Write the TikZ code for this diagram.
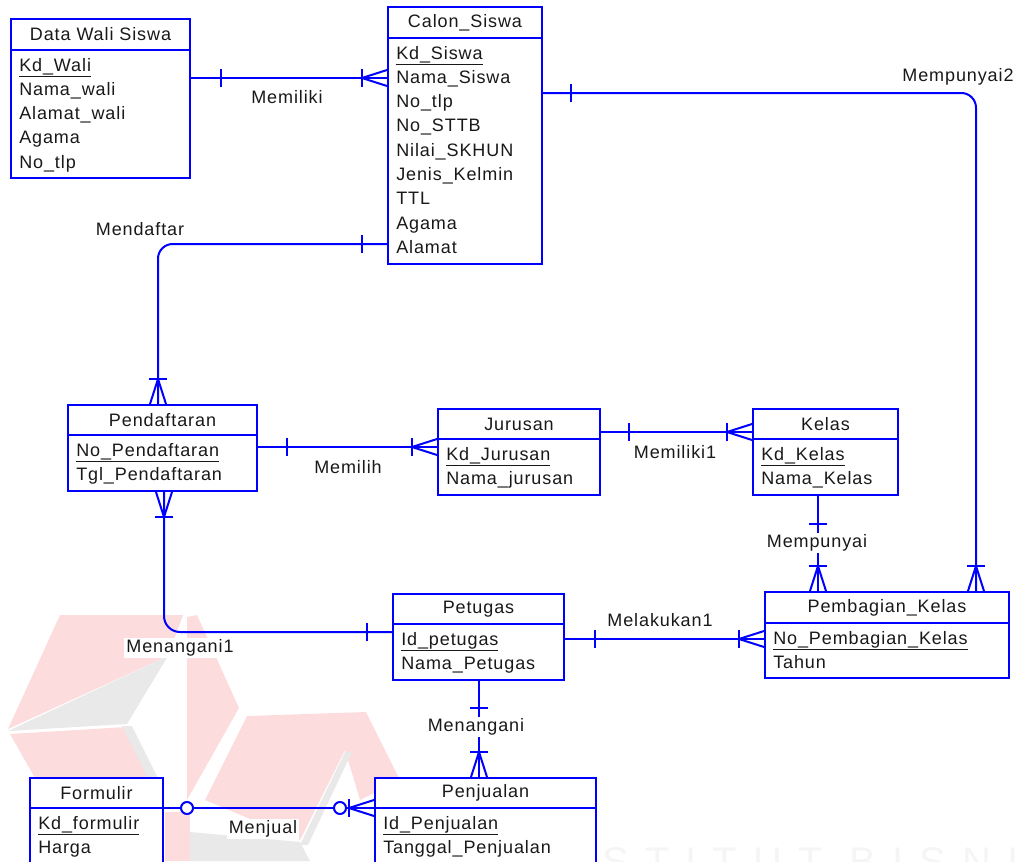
\documentclass[tikz,border=0pt]{standalone}
\usepackage{fontspec}
\setmainfont{Liberation Sans}[LetterSpace=5]
\usetikzlibrary{calc,fit}

\definecolor{erblue}{RGB}{0,0,255}
\definecolor{ertext}{RGB}{25,25,25}
\definecolor{wmpink}{RGB}{253,220,222}
\definecolor{wmgray}{RGB}{233,233,233}

\newcommand{\fs}{\fontsize{13.5}{16}\selectfont}

\tikzstyle{rel}=[draw=erblue, line width=1.5pt]
\tikzstyle{entbox}=[draw=erblue, line width=1.5pt, fill=white, inner sep=0pt]
\tikzstyle{enttitle}=[text=ertext, font=\fs, inner sep=0pt]
\tikzstyle{attr}=[anchor=base west, text=ertext, font=\fs, inner sep=0pt]
\tikzstyle{rlabel}=[text=ertext, font=\fs, fill=white, inner sep=1.5pt]

% entity: name, left, top, right, header line, bottom, title, attributes
\newcommand{\entity}[8]{%
  \node[entbox, fit={(#2,#3) (#4,#6)}] (#1) {};
  \draw[rel] (#2,#5) -- (#4,#5);
  \node[enttitle] (#1-t) at ({(#2+#4)/2},{(#3+#5)/2}) {#7};
  \foreach \r [count=\i from 0] in {#8}
    \node[attr] (#1-\i) at (#2+8, #5+21+24.3*\i) {\r};
}
% marks: point on the box edge, direction into the box
\newcommand{\crow}[3]{%
  \draw[rel] ($(#1)+({-25*(#2)-9*(#3)},{-25*(#3)+9*(#2)})$) -- ++({18*(#3)},{-18*(#2)});
  \draw[rel] ($(#1)+({-8*(#3)},{8*(#2)})$) -- ($(#1)+({-25*(#2)},{-25*(#3)})$) -- ($(#1)+({8*(#3)},{-8*(#2)})$);
}
\newcommand{\onebar}[4]{%
  \draw[rel] ($(#1)+({-(#4)*(#2)-9*(#3)},{-(#4)*(#3)+9*(#2)})$) -- ++({18*(#3)},{-18*(#2)});
}
\newcommand{\zerocirc}[4]{%
  \draw[rel, fill=white] ($(#1)+({-(#4)*(#2)},{-(#4)*(#3)})$) circle[radius=4.5pt];
}

\begin{document}
\begin{tikzpicture}[x=0.75pt, y=-0.75pt]
\useasboundingbox (0,0) rectangle (1021,861);

%   watermark
\fill[wmpink] (60,615) -- (183,615) -- (168,656) -- (8,729) -- cycle;
\fill[wmgray] (168,656) -- (8,731) -- (127,724) -- cycle;
\fill[wmpink] (10,734) -- (126,727) -- (150,778) -- (35,778) -- cycle;
\fill[wmgray] (122,726) -- (132,726) -- (158,778) -- (148,778) -- cycle;
\fill[wmpink] (187,617) -- (197,615) -- (239,708) -- (187,800) -- cycle;
\fill[wmpink] (247,716) -- (366,712) -- (400,780) -- (360,800) -- (345,750) -- (300,840) -- (205,800) -- cycle;
\fill[wmgray] (345,752) -- (352,752) -- (308,845) -- (300,845) -- cycle;
\fill[wmgray] (190,832) -- (300,842) -- (310,861) -- (190,861) -- cycle;
\fill[wmpink] (165,812) -- (190,812) -- (190,861) -- (165,861) -- cycle;
\node[anchor=base west, text=black!4, font=\fontsize{30}{30}\selectfont\addfontfeature{LetterSpace=40}] (wmtext) at (598,875) {STITUT BISNIS};

%   entities
\entity{wali}{11}{19}{190}{50}{178}{Data Wali Siswa}{\underline{Kd\_Wali},Nama\_wali,Alamat\_wali,Agama,No\_tlp}
\entity{calon}{388}{7}{542}{38}{264}{Calon\_Siswa}{\underline{Kd\_Siswa},Nama\_Siswa,No\_tlp,No\_STTB,Nilai\_SKHUN,Jenis\_Kelmin,TTL,Agama,Alamat}
\entity{daftar}{68}{405}{257}{435}{491}{Pendaftaran}{\underline{No\_Pendaftaran},Tgl\_Pendaftaran}
\entity{jurusan}{438}{409}{600}{439}{495}{Jurusan}{\underline{Kd\_Jurusan},Nama\_jurusan}
\entity{kelas}{753}{409}{898}{439}{495}{Kelas}{\underline{Kd\_Kelas},Nama\_Kelas}
\entity{bagi}{765}{592}{1009}{623}{678}{Pembagian\_Kelas}{\underline{No\_Pembagian\_Kelas},Tahun}
\entity{petugas}{393}{594}{564}{624}{680}{Petugas}{\underline{Id\_petugas},Nama\_Petugas}
\entity{formulir}{30}{778}{163}{808}{880}{Formulir}{\underline{Kd\_formulir},Harga}
\entity{jual}{375}{778}{596}{808}{880}{Penjualan}{\underline{Id\_Penjualan},Tanggal\_Penjualan}

%   relations
\draw[rel] (wali.east |- 0,78) -- (calon.west |- 0,78);
\onebar{wali.east |- 0,78}{-1}{0}{30}
\crow{calon.west |- 0,78}{1}{0}
\node[rlabel] (memiliki) at (287,97) {Memiliki};

\draw[rel, rounded corners=11pt] (calon.east |- 0,93) -- (976,93) -- (bagi.north -| 976,0);
\onebar{calon.east |- 0,93}{-1}{0}{28}
\crow{bagi.north -| 976,0}{0}{1}
\node[rlabel] (mempunyai2) at (958,77) {Mempunyai2};

\draw[rel, rounded corners=11pt] (calon.west |- 0,244) -- (158,244) -- (daftar.north -| 158,0);
\onebar{calon.west |- 0,244}{1}{0}{25}
\crow{daftar.north -| 158,0}{0}{1}
\node[rlabel] (mendaftar) at (140,229) {Mendaftar};

\draw[rel] (daftar.east |- 0,447) -- (jurusan.west |- 0,447);
\onebar{daftar.east |- 0,447}{-1}{0}{29}
\crow{jurusan.west |- 0,447}{1}{0}
\node[rlabel] (memilih) at (348,467) {Memilih};

\draw[rel] (jurusan.east |- 0,432) -- (kelas.west |- 0,432);
\onebar{jurusan.east |- 0,432}{-1}{0}{28}
\crow{kelas.west |- 0,432}{1}{0}
\node[rlabel] (memiliki1) at (675,452) {Memiliki1};

\draw[rel] (kelas.south -| 818,0) -- (bagi.north -| 818,0);
\onebar{kelas.south -| 818,0}{0}{-1}{28}
\crow{bagi.north -| 818,0}{0}{1}
\node[rlabel] (mempunyai) at (817,543) {Mempunyai};

\draw[rel] (petugas.east |- 0,639) -- (bagi.west |- 0,639);
\onebar{petugas.east |- 0,639}{-1}{0}{30}
\crow{bagi.west |- 0,639}{1}{0}
\node[rlabel] (melakukan1) at (660,620) {Melakukan1};

\draw[rel, rounded corners=12pt] (daftar.south -| 164,0) -- (164,632) -- (petugas.west |- 0,632);
\crow{daftar.south -| 164,0}{0}{-1}
\onebar{petugas.west |- 0,632}{1}{0}{25}
\node[rlabel] (menangani1) at (180,648) {Menangani1};

\draw[rel] (petugas.south -| 479,0) -- (jual.north -| 479,0);
\onebar{petugas.south -| 479,0}{0}{-1}{27}
\crow{jual.north -| 479,0}{0}{1}
\node[rlabel] (menangani) at (476,727) {Menangani};

\draw[rel] (formulir.east |- 0,808) -- (jual.west |- 0,808);
\zerocirc{formulir.east |- 0,808}{-1}{0}{23}
\crow{jual.west |- 0,808}{1}{0}
\zerocirc{jual.west |- 0,808}{1}{0}{34}
\node[rlabel] (menjual) at (263,829) {Menjual};

\end{tikzpicture}
\end{document}
